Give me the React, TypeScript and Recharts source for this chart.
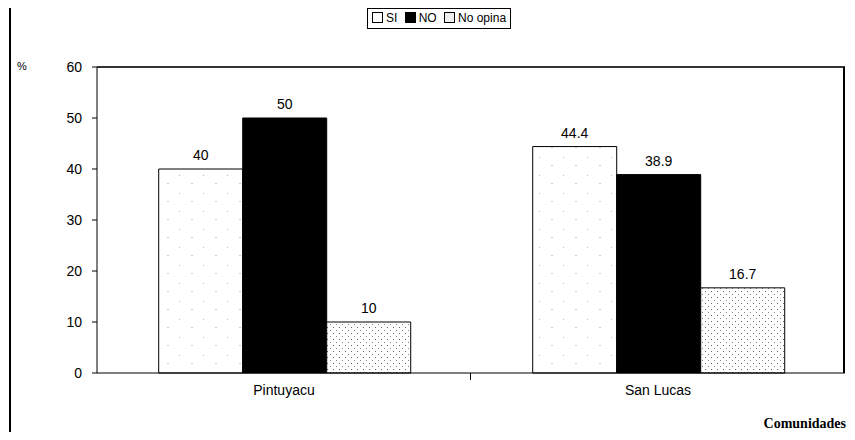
import { Bar, BarChart, LabelList, ReferenceLine, XAxis, YAxis } from "recharts"

// Communities and answer percentages
const categories = ["Pintuyacu", "San Lucas"]
const si = [40, 44.4]
const no = [50, 38.9]
const noOpina = [10, 16.7]
const yTicks = [0, 10, 20, 30, 40, 50, 60]

const data = categories.map((c, i) => ({ name: c, si: si[i], no: no[i], noOpina: noOpina[i] }))

const font = "Arial, 'Liberation Sans', sans-serif"

function LegendBox() {
  const sq = (fill: string) => (
    <span style={{ display: "inline-block", width: 9, height: 9, border: "1px solid #000", background: fill, marginRight: 3, verticalAlign: "-1px" }} />
  )
  return (
    <div style={{ position: "absolute", left: 359, top: 0, height: 19, padding: "0 4px", border: "1px solid #000", fontFamily: font, fontSize: 12, lineHeight: "19px", whiteSpace: "nowrap", background: "#fff" }}>
      {sq("#fff")}SI <span style={{ marginLeft: 4 }} />{sq("#000")}NO <span style={{ marginLeft: 4 }} />{sq("#eee")}No opina
    </div>
  )
}

export default function App() {
  return (
    <div style={{ position: "relative", width: 840, height: 424, background: "#fff", overflow: "hidden" }}>
      <div style={{ position: "absolute", left: 1, top: 0, width: 2, height: 424, background: "#000" }} />
      <LegendBox />
      <div style={{ position: "absolute", left: 9, top: 52, fontFamily: font, fontSize: 11 }}>%</div>
      <div style={{ position: "absolute", right: 2, top: 408, fontFamily: "'Liberation Serif', 'DejaVu Serif', serif", fontWeight: "bold", fontSize: 14 }}>
        Comunidades
      </div>
      <BarChart width={840} height={424} data={data} margin={{ top: 59, right: 3, left: 0, bottom: 29 }} barCategoryGap="16.5%" barGap={0}>
        <defs>
          <pattern id="dots" width="6" height="6" patternUnits="userSpaceOnUse">
            <rect width="6" height="6" fill="#fff" />
            <rect x="1" y="1" width="1" height="1" fill="#666" />
            <rect x="4" y="4" width="1" height="1" fill="#888" />
          </pattern>
          <pattern id="faint" width="24" height="18" patternUnits="userSpaceOnUse">
            <rect width="24" height="18" fill="#fff" />
            <rect x="3" y="5" width="1" height="1" fill="#bbb" />
            <rect x="15" y="13" width="2" height="1" fill="#ccc" />
          </pattern>
        </defs>
        <XAxis dataKey="name" tickLine={false} axisLine={{ stroke: "#000" }} tickSize={6} tickMargin={6} height={30}
          tick={{ fill: "#000", fontSize: 14, fontFamily: font }} />
        <YAxis domain={[0, 60]} ticks={yTicks} width={89} axisLine={{ stroke: "#000" }} tickLine={{ stroke: "#000" }} tickSize={5}
          tickMargin={10} tick={{ fill: "#000", fontSize: 14, fontFamily: font }} />
        <ReferenceLine y={60} stroke="#333" strokeWidth={2} />
        <Bar dataKey="si" fill="url(#faint)" stroke="#000" strokeWidth={1} isAnimationActive={false}>
          <LabelList dataKey="si" position="top" offset={9} fill="#000" fontSize={14} fontFamily={font} />
        </Bar>
        <Bar dataKey="no" fill="#000" stroke="#000" isAnimationActive={false}>
          <LabelList dataKey="no" position="top" offset={9} fill="#000" fontSize={14} fontFamily={font} />
        </Bar>
        <Bar dataKey="noOpina" fill="url(#dots)" stroke="#000" strokeWidth={1} isAnimationActive={false}>
          <LabelList dataKey="noOpina" position="top" offset={9} fill="#000" fontSize={14} fontFamily={font} />
        </Bar>
      </BarChart>
      <div style={{ position: "absolute", left: 835, top: 59, width: 2, height: 306, background: "#000", zIndex: 2 }} />
      <div style={{ position: "absolute", left: 462, top: 365, width: 1, height: 7, background: "#000", zIndex: 2 }} />
    </div>
  )
}
